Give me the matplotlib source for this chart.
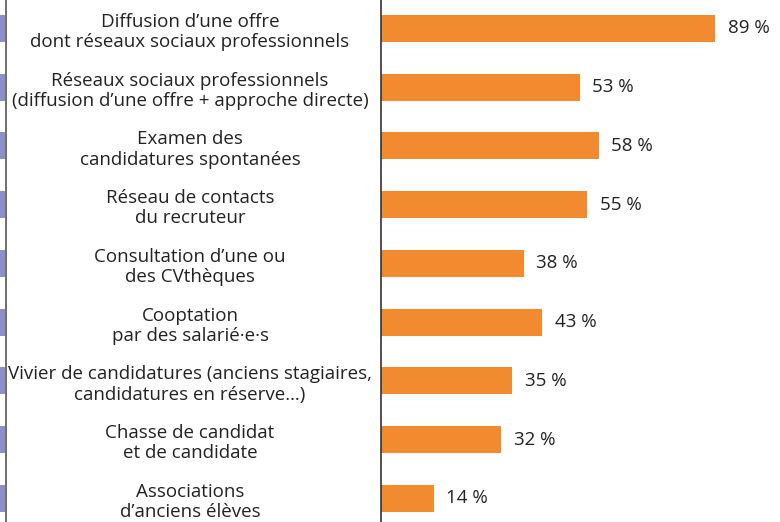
import matplotlib.pyplot as plt
from matplotlib.transforms import blended_transform_factory

categories = [
    "Diffusion d’une offre\ndont réseaux sociaux professionnels",
    "Réseaux sociaux professionnels\n(diffusion d’une offre + approche directe)",
    "Examen des\ncandidatures spontanées",
    "Réseau de contacts\ndu recruteur",
    "Consultation d’une ou\ndes CVthèques",
    "Cooptation\npar des salarié·e·s",
    "Vivier de candidatures (anciens stagiaires,\ncandidatures en réserve…)",
    "Chasse de candidat\net de candidate",
    "Associations\nd’anciens élèves",
]
values = [89, 53, 58, 55, 38, 43, 35, 32, 14]
value_labels = ["89 %", "53 %", "58 %", "55 %", "38 %", "43 %", "35 %", "32 %", "14 %"]

plt.rcParams['font.family'] = ['Open Sans', 'DejaVu Sans']
text_color = '#222222'
orange = '#F28A30'
purple = '#8C8FC8'

W, H = 780, 522
fig = plt.figure(figsize=(W / 100, H / 100), dpi=100)

x0 = 381
scale = 3.75  # px per percent
step = 58.75
top = 28.5
ylim = ((H - top) / step, -top / step)

ax = fig.add_axes([x0 / W, 0, (W - x0) / W, 1])
y = list(range(len(values)))
ax.barh(y, values, height=27 / step, color=orange)
for yi, v, lab in zip(y, values, value_labels):
    ax.text(v + 3.4, yi, lab, va='center', ha='left', fontsize=13.5, color=text_color)
ax.set_xlim(0, (W - x0) / scale)
ax.set_ylim(*ylim)
for s in ['top', 'right', 'bottom']:
    ax.spines[s].set_visible(False)
ax.spines['left'].set_color('#333333')
ax.spines['left'].set_linewidth(1.2)
ax.set_xticks([])
ax.set_yticks([])

tr = blended_transform_factory(fig.transFigure, ax.transData)
for yi, cat in zip(y, categories):
    ax.text(190 / W, yi + 0.06, cat, transform=tr, ha='center', va='center',
            fontsize=13.5, color=text_color, linespacing=1.15)

# cropped bars of the neighbouring panel on the far left
ax2 = fig.add_axes([0, 0, 5 / W, 1])
ax2.barh(y, [1] * len(y), height=27 / step, color=purple)
ax2.set_xlim(0, 1)
ax2.set_ylim(*ylim)
ax2.axis('off')
fig.add_artist(plt.Line2D([5.5 / W, 5.5 / W], [0, 1], color='#555555', lw=1.2))

fig.savefig('out.png', dpi=100)
